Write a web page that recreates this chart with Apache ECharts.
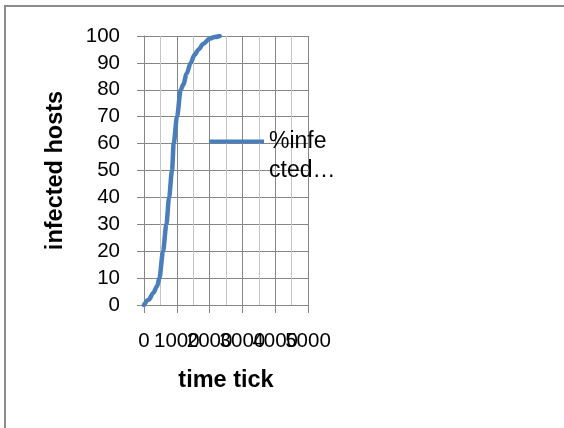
<!DOCTYPE html>
<html>
<head>
<meta charset="utf-8">
<script src="https://cdn.jsdelivr.net/npm/echarts@6/dist/echarts.min.js"></script>
<style>
  html, body { margin: 0; padding: 0; background: #fff; }
  #chart { width: 564px; height: 428px; }
</style>
</head>
<body>
<div id="chart"></div>
<script>
// Spread of the infection over simulated time
const timeTicks = [0, 150, 280, 400, 470, 580, 683, 764, 854, 905, 1006, 1120, 1200, 1300, 1423, 1540, 1667, 1800, 2000, 2150, 2308];
const infectedPct = [0, 2, 4.5, 7, 10, 20, 30, 40, 50, 60, 70, 80, 82, 86, 90, 93, 95, 97, 99, 99.6, 100];
const seriesName = '%infected hosts';
const xTitle = 'time tick';
const yTitle = 'infected hosts';

const points = timeTicks.map((t, i) => [t, infectedPct[i]]);

const font = '"Liberation Sans", Arial, sans-serif';
const gridDark = '#868686';
const gridLight = '#c4c4c4';
const lineBlue = '#4a7ebb';

// The tick labels of the time axis are wider than their spacing, so they are
// split over two stacked axes (even / odd thousands) to keep every one drawn.
const tickLabelStyle = { fontFamily: font, fontSize: 20.5, color: '#000', margin: 26 };
const evenLabels = (v) => (Math.round(v / 1000) % 2 === 0 ? String(v) : '');
const oddLabels = (v) => (Math.round(v / 1000) % 2 === 1 ? String(v) : '');

const chart = echarts.init(document.getElementById('chart'), null, { renderer: 'canvas' });
chart.setOption({
  animation: false,
  backgroundColor: '#ffffff',
  grid: { left: 144, right: 256, top: 36, bottom: 123, containLabel: false },
  xAxis: [{
    type: 'value',
    min: 0, max: 5000, interval: 1000,
    position: 'bottom',
    name: xTitle,
    nameLocation: 'middle',
    nameGap: 64,
    nameTextStyle: { fontFamily: font, fontSize: 23.5, fontWeight: 'bold', color: '#000' },
    axisLine: { show: true, onZero: false, lineStyle: { color: gridDark, width: 1 } },
    axisTick: { show: true, length: 8, lineStyle: { color: gridDark } },
    axisLabel: Object.assign({ formatter: evenLabels }, tickLabelStyle),
    splitLine: { show: true, lineStyle: { color: gridDark, width: 1 } },
    minorTick: { show: false, splitNumber: 2 },
    minorSplitLine: { show: true, lineStyle: { color: gridLight, width: 1 } }
  }, {
    type: 'value',
    min: 0, max: 5000, interval: 1000,
    position: 'bottom',
    offset: 0,
    axisLine: { show: false, onZero: false },
    axisTick: { show: false },
    axisLabel: Object.assign({ formatter: oddLabels }, tickLabelStyle),
    splitLine: { show: false }
  }],
  yAxis: {
    type: 'value',
    min: 0, max: 100, interval: 10,
    name: yTitle,
    nameLocation: 'middle',
    nameGap: 76,
    nameRotate: 90,
    nameTextStyle: { fontFamily: font, fontSize: 23.5, fontWeight: 'bold', color: '#000' },
    axisLine: { show: true, lineStyle: { color: gridDark, width: 1 } },
    axisTick: { show: true, length: 7, lineStyle: { color: gridDark } },
    axisLabel: { fontFamily: font, fontSize: 20.5, color: '#000', margin: 24 },
    splitLine: { show: true, lineStyle: { color: gridDark, width: 1 } }
  },
  legend: {
    left: 209, top: 98,
    padding: 0,
    itemWidth: 55, itemHeight: 14, itemGap: 0,
    icon: 'path://M0,0 L55,0 L55,4 L0,4 Z',
    data: [seriesName],
    // blank first line keeps the icon level with "%infe"
    formatter: () => ' \n%infe\ncted…',
    textStyle: { fontFamily: font, fontSize: 23, color: '#000', lineHeight: 29 },
    itemStyle: { color: lineBlue }
  },
  series: [{
    name: seriesName,
    type: 'line',
    xAxisIndex: 0,
    data: points,
    showSymbol: false,
    symbol: 'none',
    smooth: 0.3,
    smoothMonotone: 'x',
    lineStyle: { color: lineBlue, width: 4.5, cap: 'round', join: 'round' },
    itemStyle: { color: lineBlue }
  }],
  graphic: [{
    type: 'rect',
    shape: { x: 5, y: 6, width: 620, height: 500 },
    style: { fill: 'none', stroke: '#8c8c8c', lineWidth: 2 },
    silent: true
  }]
});
</script>
</body>
</html>
